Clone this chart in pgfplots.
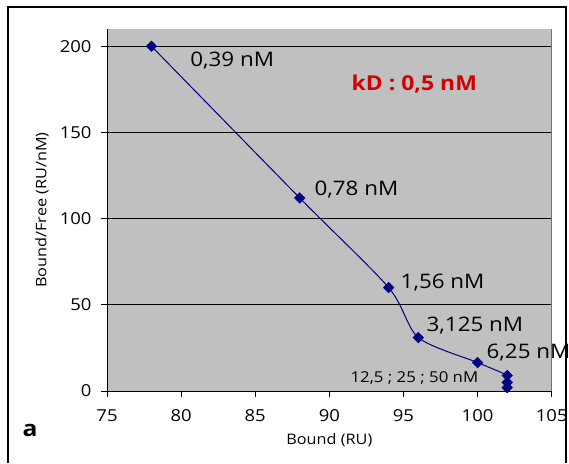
\documentclass[border=0pt]{standalone}
\usepackage{fontspec}
\setmainfont{Open Sans}[FakeStretch=1.12]
\usepackage{pgfplots}
\pgfplotsset{compat=1.18}
\definecolor{plotgray}{RGB}{192,192,192}
\definecolor{navy}{RGB}{0,0,128}
\definecolor{kdred}{RGB}{210,0,0}
\begin{document}
\begin{tikzpicture}[x=1pt,y=1pt]
\path[use as bounding box] (0,0) rectangle (569,-463);
\draw[line width=1.2pt] (8,-463) -- (8,-7) -- (566,-7) -- (566,-463);
\begin{axis}[
  at={(107pt,-391pt)}, anchor=south west,
  scale only axis, width=444.7pt, height=362pt,
  xmin=75, xmax=105, ymin=0, ymax=210,
  xtick={75,80,...,105}, ytick={0,50,...,200},
  axis lines=left, axis line style={-, black, line width=0.8pt},
  axis background/.style={fill=plotgray},
  ymajorgrids, grid style={black, line width=0.8pt},
  tick align=outside, major tick length=6pt, tick style={black, line width=0.8pt},
  /pgf/number format/assume math mode=true,
  /pgf/number format/1000 sep={},
  ticklabel style={font=\fontsize{16.5}{18}\selectfont},
  xticklabel style={yshift=-9pt},
  yticklabel style={xshift=-6pt},
  xlabel={Bound (RU)}, ylabel={Bound/Free (RU/nM)},
  label style={font=\fontsize{14.5}{16}\selectfont},
  xlabel style={at={(axis description cs:0.5,-0.1353)}, anchor=center},
  ylabel style={at={(axis description cs:-0.146,0.5)}, anchor=center},
  clip=false,
]
\addplot[navy, line width=1pt, smooth, tension=0.45, mark=diamond*, mark size=5pt, mark options={fill=navy, xscale=1.33}]
 coordinates {(78,200) (88,112) (94,60) (96,31) (100,16.5) (102,9) (102,5) (102,2)};
\draw[plotgray!60!black, line width=0.8pt] (rel axis cs:1,0) -- (rel axis cs:1,1);
\begin{scope}[every node/.style={anchor=west, inner sep=0pt, font=\fontsize{20}{22}\selectfont}]
\node at (axis cs:80.61,191.9) {0,39 nM};
\node at (axis cs:88.99,117.1) {0,78 nM};
\node at (axis cs:94.8,63.2) {1,56 nM};
\node at (axis cs:96.55,37.7) {3,125 nM};
\node at (axis cs:100.6,22.6) {6,25 nM};
\end{scope}
\node[anchor=west, inner sep=0pt, font=\fontsize{15}{17}\selectfont] at (axis cs:91.42,7.5) {12,5 ; 25 ; 50 nM};
\node[anchor=west, inner sep=0pt, font=\bfseries\fontsize{20.5}{22}\selectfont, text=kdred] at (axis cs:91.49,178) {kD : 0,5 nM};
\end{axis}
\node[font=\bfseries\fontsize{22}{24}\selectfont, anchor=center] at (30,-430) {a};
\end{tikzpicture}
\end{document}
